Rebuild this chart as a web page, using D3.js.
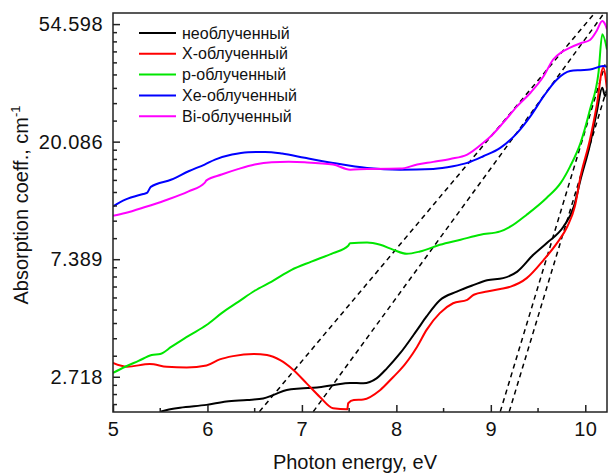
<!DOCTYPE html>
<html>
<head>
<meta charset="utf-8">
<script src="https://cdn.jsdelivr.net/npm/d3@7"></script>
<style>
  body { margin: 0; background: #fff; }
  text { font-family: "Liberation Sans", Arial, sans-serif; fill: #111; }
</style>
</head>
<body>
<div id="wrapper"></div>
<script>
// photon energy (eV), absorption coeff (cm^-1)
const unirradiated = [[5.50,2.02],[5.57,2.05],[5.71,2.09],[5.99,2.14],[6.20,2.20],[6.42,2.23],[6.59,2.26],[6.70,2.33],[6.84,2.43],[6.98,2.46],[7.16,2.48],[7.33,2.53],[7.51,2.58],[7.65,2.57],[7.79,2.68],[7.90,2.92],[8.04,3.32],[8.22,4.05],[8.32,4.54],[8.46,5.21],[8.64,5.61],[8.82,5.94],[8.96,6.18],[9.13,6.29],[9.28,6.65],[9.45,7.67],[9.59,8.47],[9.77,9.76],[9.88,11.58],[9.95,14.54],[10.05,19.6],[10.12,25.7],[10.18,31.8],[10.21,29.6],[10.23,30.8]];
const xIrradiated = [[5.00,3.06],[5.15,2.96],[5.39,3.03],[5.57,2.96],[5.78,2.94],[5.99,2.99],[6.13,3.15],[6.27,3.24],[6.49,3.30],[6.63,3.27],[6.77,3.13],[6.91,2.88],[7.05,2.57],[7.19,2.29],[7.33,2.08],[7.48,2.06],[7.49,2.17],[7.55,2.23],[7.65,2.24],[7.83,2.43],[7.97,2.72],[8.04,2.88],[8.22,3.51],[8.32,4.05],[8.46,4.67],[8.60,5.08],[8.75,5.23],[8.82,5.46],[8.96,5.61],[9.10,5.73],[9.21,5.85],[9.38,6.29],[9.56,7.35],[9.70,8.47],[9.81,9.76],[9.89,11.58],[9.95,14.95],[10.05,20.45],[10.12,27.17],[10.19,37.7],[10.23,31.3]];
const pIrradiated = [[5.00,2.81],[5.13,2.96],[5.27,3.11],[5.41,3.27],[5.50,3.30],[5.62,3.51],[5.80,3.85],[5.99,4.22],[6.15,4.67],[6.33,5.15],[6.50,5.65],[6.68,6.11],[6.89,6.75],[7.10,7.24],[7.33,7.78],[7.49,8.28],[7.51,8.47],[7.69,8.52],[7.83,8.35],[7.97,8.00],[8.11,7.74],[8.25,7.89],[8.46,8.35],[8.68,8.72],[8.89,9.10],[9.10,9.36],[9.21,9.76],[9.38,10.79],[9.59,12.44],[9.74,14.14],[9.84,16.28],[9.95,19.88],[10.05,26.4],[10.14,36.1],[10.18,50.1],[10.23,44.0]];
const xeIrradiated = [[5.00,11.58],[5.13,12.26],[5.32,12.87],[5.36,12.99],[5.40,13.67],[5.62,14.55],[5.80,15.61],[5.97,16.53],[6.08,17.24],[6.26,17.99],[6.43,18.36],[6.61,18.41],[6.79,18.15],[7.03,17.50],[7.33,16.76],[7.69,16.06],[8.04,15.83],[8.39,15.93],[8.60,16.29],[8.75,16.76],[8.92,17.74],[9.10,19.05],[9.28,21.65],[9.42,24.95],[9.56,29.58],[9.70,34.1],[9.84,36.6],[9.95,36.9],[10.05,37.1],[10.19,38.2],[10.23,38.0]];
const biIrradiated = [[5.00,10.70],[5.13,10.95],[5.34,11.52],[5.55,12.18],[5.80,13.16],[5.97,14.14],[5.99,14.45],[6.15,15.18],[6.33,15.93],[6.50,16.53],[6.68,16.85],[6.86,16.91],[7.03,16.85],[7.33,16.53],[7.51,15.83],[7.69,15.93],[8.04,15.97],[8.22,16.53],[8.39,16.91],[8.57,17.34],[8.75,17.99],[8.92,19.88],[9.00,21.03],[9.13,23.57],[9.28,27.17],[9.42,30.45],[9.56,35.1],[9.66,40.4],[9.75,43.0],[9.84,44.7],[9.95,46.4],[10.05,47.7],[10.12,51.5],[10.18,56.0],[10.21,54.5],[10.23,52.2]];

// dashed linear fits (end points)
const fitLines = [
  [[6.55,2.02],[10.10,60.0]],
  [[7.12,2.02],[10.20,60.0]],
  [[9.10,2.02],[10.21,38.7]],
  [[9.195,2.02],[10.233,31.8]]
];

const seriesNames = ["необлученный","X-облученный","p-облученный","Xe-облученный","Bi-облученный"];
const seriesColors = ["#000000","#ff0000","#00e600","#0000ff","#ff00ff"];
const seriesData = [unirradiated, xIrradiated, pIrradiated, xeIrradiated, biIrradiated];

const xTicks = [5,6,7,8,9,10];
const yTicks = [2.718, 7.389, 20.086, 54.598];
const yTickLabels = ["2.718","7.389","20.086","54.598"];

const dimensions = {
  width: 608,
  height: 473,
  margin: { top: 13, right: 1, bottom: 61, left: 113 }
};
dimensions.boundedWidth = dimensions.width - dimensions.margin.left - dimensions.margin.right;
dimensions.boundedHeight = dimensions.height - dimensions.margin.top - dimensions.margin.bottom;

const wrapper = d3.select("#wrapper").append("svg")
  .attr("width", dimensions.width)
  .attr("height", dimensions.height);

const bounds = wrapper.append("g")
  .attr("transform", `translate(${dimensions.margin.left},${dimensions.margin.top})`);

const xScale = d3.scaleLinear().domain([5, 10.23]).range([0, dimensions.boundedWidth]);
const yScale = d3.scaleLog().domain([2.014, 60]).range([dimensions.boundedHeight, 0]);

bounds.append("clipPath").attr("id", "clip")
  .append("rect").attr("width", dimensions.boundedWidth).attr("height", dimensions.boundedHeight);

const lineGen = d3.line().x(d => xScale(d[0])).y(d => yScale(d[1])).curve(d3.curveMonotoneX);
const straight = d3.line().x(d => xScale(d[0])).y(d => yScale(d[1]));

const plot = bounds.append("g").attr("clip-path", "url(#clip)");

plot.selectAll(".fit").data(fitLines).join("path")
  .attr("class", "fit")
  .attr("d", straight)
  .attr("fill", "none")
  .attr("stroke", "#000")
  .attr("stroke-width", 1.5)
  .attr("stroke-dasharray", "5,4");

plot.selectAll(".series").data(seriesData).join("path")
  .attr("class", "series")
  .attr("d", lineGen)
  .attr("fill", "none")
  .attr("stroke", (d, i) => seriesColors[i])
  .attr("stroke-width", 2);

// minor ticks: y has 9 linear steps between e^n, x has halves
const yMinor = [];
const yMajorsAll = [1, 2.718, 7.389, 20.086, 54.598];
for (let k = 0; k < yMajorsAll.length - 1; k++) {
  const step = (yMajorsAll[k+1] - yMajorsAll[k]) / 9;
  for (let j = 1; j < 9; j++) {
    const v = yMajorsAll[k] + j * step;
    if (v > 2.014 && v < 60) yMinor.push(v);
  }
}
const xMinor = [5.5, 6.5, 7.5, 8.5, 9.5];

const xAxis = d3.axisBottom(xScale).tickValues(xTicks).tickFormat(d3.format("d"))
  .tickSizeInner(-7).tickSizeOuter(0).tickPadding(10);
const xAxisG = bounds.append("g").attr("transform", `translate(0,${dimensions.boundedHeight})`).call(xAxis);
xAxisG.select(".domain").remove();
xAxisG.selectAll("text").style("font-size", "20px").style("letter-spacing", "0.5px").attr("fill", "#111");
xAxisG.selectAll("line").attr("stroke", "#222").attr("stroke-width", 1.5);
bounds.append("g").selectAll("line").data(xMinor).join("line")
  .attr("x1", d => xScale(d)).attr("x2", d => xScale(d))
  .attr("y1", dimensions.boundedHeight).attr("y2", dimensions.boundedHeight - 4)
  .attr("stroke", "#222").attr("stroke-width", 1.5);

const yAxis = d3.axisLeft(yScale).tickValues(yTicks).tickFormat((d, i) => yTickLabels[i])
  .tickSizeInner(-7).tickSizeOuter(0).tickPadding(10);
const yAxisG = bounds.append("g").call(yAxis);
yAxisG.select(".domain").remove();
yAxisG.selectAll("text").style("font-size", "20px").style("letter-spacing", "0.5px").attr("fill", "#111");
yAxisG.selectAll("line").attr("stroke", "#222").attr("stroke-width", 1.5);
bounds.append("g").selectAll("line").data(yMinor).join("line")
  .attr("x1", 0).attr("x2", 4)
  .attr("y1", d => yScale(d)).attr("y2", d => yScale(d))
  .attr("stroke", "#222").attr("stroke-width", 1.5);

// frame
bounds.append("rect")
  .attr("width", dimensions.boundedWidth).attr("height", dimensions.boundedHeight)
  .attr("fill", "none").attr("stroke", "#222").attr("stroke-width", 1.5);

// axis titles
wrapper.append("text")
  .attr("x", 355).attr("y", 469)
  .attr("text-anchor", "middle")
  .style("font-size", "20px")
  .text("Photon energy, eV");

const yTitle = wrapper.append("text")
  .attr("transform", "translate(28,205) rotate(-90)")
  .attr("text-anchor", "middle")
  .style("font-size", "20px");
yTitle.append("tspan").text("Absorption coeff., cm");
yTitle.append("tspan").attr("dy", -8).style("font-size", "13px").text("-1");

// legend
const legend = bounds.append("g").attr("transform", "translate(26,20)");
const rows = legend.selectAll("g").data(seriesNames).join("g")
  .attr("transform", (d, i) => `translate(0,${i * 20.8})`);
rows.append("line").attr("x1", 0).attr("x2", 37)
  .attr("stroke", (d, i) => seriesColors[i]).attr("stroke-width", 2);
rows.append("text").attr("x", 43).attr("dy", "0.35em")
  .style("font-size", "16px").text(d => d);
</script>
</body>
</html>
